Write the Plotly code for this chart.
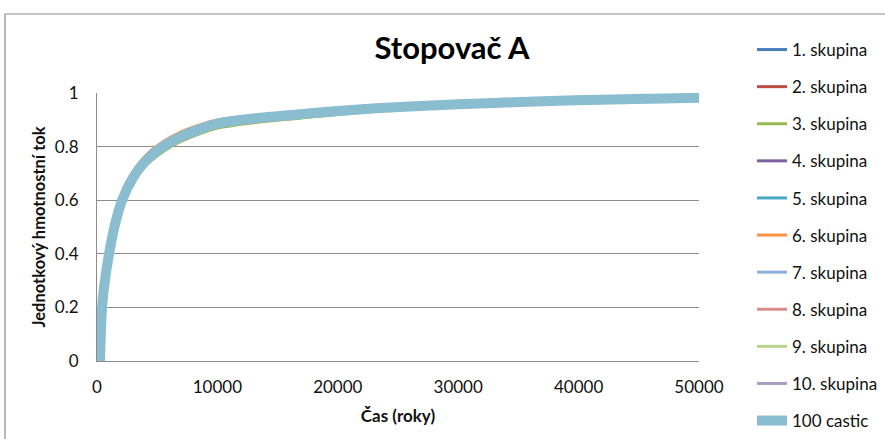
import plotly.graph_objects as go

# ---- data ----
cas = [250, 420, 600, 1000, 1500, 2080, 3000, 4000, 5480, 7000, 8500, 10000,
       13000, 16860, 20000, 25170, 30000, 33470, 37000, 41780, 46000, 50000]

castic_100 = [0.0, 0.2, 0.28, 0.4, 0.51, 0.6, 0.685, 0.745, 0.8, 0.838, 0.865, 0.886,
              0.905, 0.921, 0.933, 0.948, 0.958, 0.964, 0.969, 0.975, 0.979, 0.982]

skupina_1 = [0.0, 0.2, 0.28, 0.4, 0.51, 0.6, 0.686, 0.746, 0.801, 0.839, 0.866, 0.887,
             0.905, 0.921, 0.933, 0.948, 0.958, 0.964, 0.969, 0.975, 0.979, 0.982]
skupina_2 = [0.0, 0.2, 0.282, 0.402, 0.512, 0.603, 0.69, 0.75, 0.805, 0.842, 0.869, 0.889,
             0.907, 0.922, 0.934, 0.949, 0.959, 0.965, 0.97, 0.975, 0.979, 0.982]
skupina_3 = [0.0, 0.19, 0.265, 0.38, 0.485, 0.574, 0.664, 0.726, 0.781, 0.82, 0.848, 0.869,
             0.889, 0.906, 0.92, 0.938, 0.95, 0.957, 0.963, 0.97, 0.975, 0.979]
skupina_4 = [0.0, 0.2, 0.279, 0.399, 0.509, 0.599, 0.684, 0.744, 0.799, 0.837, 0.864, 0.886,
             0.904, 0.92, 0.932, 0.947, 0.957, 0.964, 0.969, 0.974, 0.978, 0.981]
skupina_5 = [0.0, 0.201, 0.281, 0.401, 0.511, 0.601, 0.687, 0.747, 0.802, 0.84, 0.866, 0.888,
             0.906, 0.921, 0.933, 0.948, 0.958, 0.964, 0.969, 0.975, 0.979, 0.982]
skupina_6 = [0.0, 0.205, 0.29, 0.415, 0.528, 0.62, 0.706, 0.765, 0.818, 0.855, 0.88, 0.899,
             0.915, 0.929, 0.94, 0.953, 0.962, 0.967, 0.972, 0.977, 0.98, 0.983]
skupina_7 = [0.0, 0.2, 0.28, 0.4, 0.51, 0.6, 0.685, 0.745, 0.8, 0.838, 0.865, 0.887,
             0.905, 0.921, 0.933, 0.948, 0.958, 0.964, 0.969, 0.975, 0.979, 0.982]
skupina_8 = [0.0, 0.204, 0.288, 0.412, 0.525, 0.617, 0.703, 0.762, 0.815, 0.852, 0.878, 0.897,
             0.914, 0.928, 0.939, 0.952, 0.961, 0.967, 0.971, 0.976, 0.98, 0.983]
skupina_9 = [0.0, 0.199, 0.278, 0.397, 0.507, 0.597, 0.682, 0.742, 0.797, 0.835, 0.863, 0.885,
             0.904, 0.919, 0.932, 0.947, 0.957, 0.963, 0.969, 0.974, 0.978, 0.981]
skupina_10 = [0.0, 0.2, 0.281, 0.401, 0.511, 0.602, 0.688, 0.748, 0.803, 0.841, 0.867, 0.888,
              0.906, 0.922, 0.934, 0.948, 0.958, 0.965, 0.97, 0.975, 0.979, 0.982]

skupiny = [skupina_1, skupina_2, skupina_3, skupina_4, skupina_5,
           skupina_6, skupina_7, skupina_8, skupina_9, skupina_10]
nazvy = ["1. skupina", "2. skupina", "3. skupina", "4. skupina", "5. skupina",
         "6. skupina", "7. skupina", "8. skupina", "9. skupina", "10. skupina"]
barvy = ["#4A7EBB", "#BE4B48", "#98B954", "#7D60A0", "#46AAC5",
         "#F69240", "#8EB0DA", "#DA8C8B", "#B8D38F", "#A99BC1"]

x_ticks = [0, 10000, 20000, 30000, 40000, 50000]
x_tick_labels = ["0", "10000", "20000", "30000", "40000", "50000"]
y_ticks = [0, 0.2, 0.4, 0.6, 0.8, 1]
y_tick_labels = ["0", "0.2", "0.4", "0.6", "0.8", "1"]

FONT = "Lato, Carlito, 'Open Sans', sans-serif"

fig = go.Figure()
for i, (vals, name, col) in enumerate(zip(skupiny, nazvy, barvy)):
    fig.add_trace(go.Scatter(x=cas, y=vals, name=name, mode="lines",
                             line=dict(color=col, width=3, shape="spline"),
                             legendgroup=f"g{i}"))
fig.add_trace(go.Scatter(x=cas, y=castic_100, name="100 castic", mode="lines",
                         line=dict(color="#8BBDD1", width=10, shape="spline"),
                         legendgroup="g10"))

fig.update_layout(
    width=885, height=439,
    margin=dict(l=97, r=186, t=93, b=78, autoexpand=False),
    paper_bgcolor="white", plot_bgcolor="white",
    font=dict(family=FONT, size=17, color="#111111"),
    title=dict(text="<b>Stopovač A</b>", x=(452 - 97) / 602, xref="paper",
               xanchor="center", y=1 - 48 / 439, yanchor="middle",
               font=dict(size=31, family=FONT, color="#000000")),
    showlegend=True,
    legend=dict(x=(752 - 97) / 602, xanchor="left", y=1 + (93 - 32) / 268, yanchor="top",
                font=dict(size=17, family=FONT), tracegroupgap=12,
                bgcolor="rgba(0,0,0,0)", itemwidth=30, maxheight=800),
    shapes=[dict(type="rect", xref="paper", yref="paper",
                 x0=(5 - 97) / 602, x1=2.0, y0=-2.0, y1=1 + (93 - 14) / 268,
                 line=dict(color="#8C8C8C", width=1.2), fillcolor="rgba(0,0,0,0)",
                 layer="below")],
)
fig.update_xaxes(range=[0, 50000], tickvals=x_ticks, ticktext=x_tick_labels, ticks="",
                 showgrid=False, showline=True, linecolor="#8C8C8C", linewidth=1.2,
                 zeroline=False, ticklabelstandoff=10, automargin=False,
                 title=dict(text="<b>Čas (roky)</b>", font=dict(size=17), standoff=14))
fig.update_yaxes(range=[0, 1], tickvals=y_ticks, ticktext=y_tick_labels, ticks="",
                 showgrid=True, gridcolor="#8C8C8C", gridwidth=1.2, showline=True,
                 linecolor="#8C8C8C", linewidth=1.2, zeroline=False,
                 ticklabelstandoff=14, automargin=False,
                 title=dict(text="<b>Jednotkový hmotnostní tok</b>", font=dict(size=16.5), standoff=4))

fig.write_html("out.html", config={"displayModeBar": False},
               post_script="document.body.style.margin='0px';")
